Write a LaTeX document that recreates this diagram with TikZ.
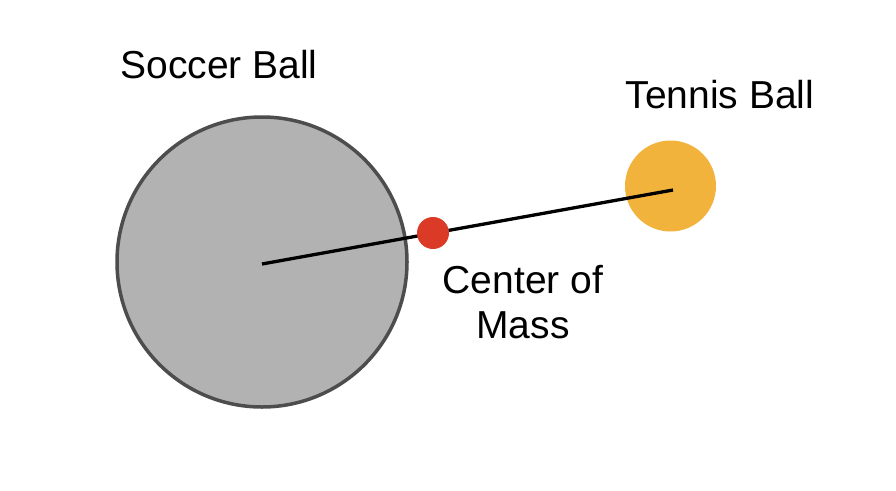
\documentclass[tikz,border=0pt]{standalone}
\usepackage{fontspec}
\setmainfont{Liberation Sans}
\begin{document}
\begin{tikzpicture}[x=1pt,y=-1pt,
  lbl/.style={font=\fontsize{39}{45}\selectfont, align=center, text=black, inner sep=0pt}]
\definecolor{ballgray}{HTML}{B2B2B2}
\definecolor{edgegray}{HTML}{4D4D4D}
\definecolor{tennis}{HTML}{F2B33D}
\definecolor{cmred}{HTML}{DB3B26}
\useasboundingbox (0,0) rectangle (896,490);
\node[circle, draw=edgegray, line width=3.5pt, fill=ballgray, minimum size=290pt, inner sep=0pt] (soccer) at (262,262) {};
\node[circle, fill=tennis, minimum size=91pt, inner sep=0pt] (tennis) at (670.5,186) {};
\coordinate (sc) at (262,264);
\coordinate (tc) at (673,190);
\draw[line width=3.3pt] (sc) -- (tc);
\node[circle, fill=cmred, minimum size=32pt, inner sep=0pt] (com) at (433,233) {};
\node[lbl] (soccerlbl) at (219,65) {Soccer Ball};
\node[lbl] (tennislbl) at (720,95) {Tennis Ball};
\node[lbl] (comlbl) at (523,302) {Center of\\Mass};
\end{tikzpicture}
\end{document}
